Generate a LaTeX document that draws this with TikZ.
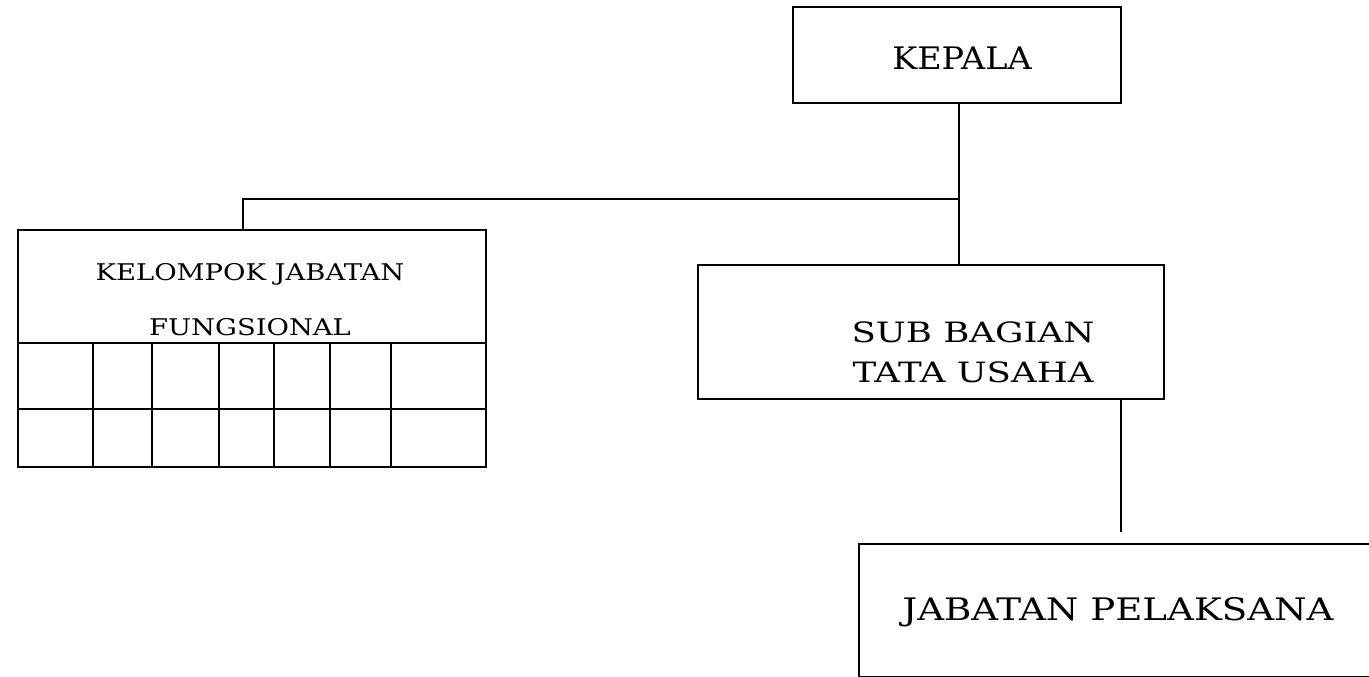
\documentclass[tikz,border=0pt]{standalone}
\usepackage{fontspec}
\setmainfont{DejaVu Serif}
\newfontfamily\wideA[FakeStretch=1.08]{DejaVu Serif}
\newfontfamily\wideB[FakeStretch=1.19]{DejaVu Serif}
\newfontfamily\wideC[FakeStretch=1.27]{DejaVu Serif}
\newfontfamily\wideD[FakeStretch=1.2]{DejaVu Serif}
\begin{document}
\begin{tikzpicture}[x=1pt,y=-1pt,
  box/.style={draw,line width=1.8pt,rectangle,inner sep=0pt,anchor=north west},
  conn/.style={line width=1.8pt},
  grid/.style={line width=1.8pt},
  txt/.style={inner sep=0pt,anchor=center,text=black}]
\useasboundingbox (0,0) rectangle (1369,677);
% boxes
\node[box,minimum width=328pt,minimum height=96pt] (kepala) at (792,6) {};
\node[box,minimum width=468pt,minimum height=237pt] (kelompok) at (17,229) {};
\node[box,minimum width=466pt,minimum height=134pt] (sub) at (697,264) {};
\node[box,minimum width=520pt,minimum height=133pt] (pelaksana) at (858,543) {};
% texts
\node[txt,font=\wideA\fontsize{31}{36}\selectfont] (tk) at (962,58) {KEPALA};
\node[txt,font=\wideB\fontsize{23}{28}\selectfont] (tk1) at (250,274) {KELOMPOK JABATAN};
\node[txt,font=\wideB\fontsize{23}{28}\selectfont] (tk2) at (250,327) {FUNGSIONAL};
\node[txt,font=\wideC\fontsize{28}{40}\selectfont,align=center] (ts) at (973,352) {SUB BAGIAN\\TATA USAHA};
\node[txt,font=\wideD\fontsize{31}{36}\selectfont] (tp) at (1118,612) {JABATAN PELAKSANA};
% grid inside kelompok
\draw[grid] (17,343) -- (485,343);
\draw[grid] (17,409) -- (485,409);
\foreach \gx in {93,152,219,274,330,391}{
  \draw[grid] (\gx,343) -- (\gx,466);
}
% connectors
\coordinate (j) at (959,199);
\coordinate (d) at (1121,398);
\draw[conn] (kepala.south -| j) -- (sub.north -| j);
\draw[conn] (j) -| (kelompok.north -| 243,0);
\draw[conn,shorten >=11pt] (sub.south -| d) -- (pelaksana.north -| d);
\end{tikzpicture}
\end{document}
